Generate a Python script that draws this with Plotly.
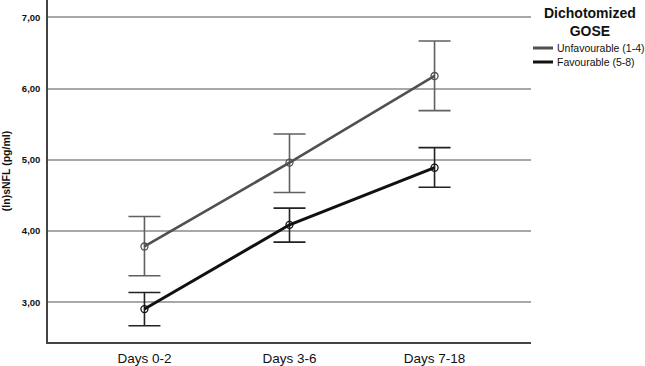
import plotly.graph_objects as go

categories = ["Days 0-2", "Days 3-6", "Days 7-18"]

unfav_mean = [3.785, 4.962, 6.177]
unfav_upper = [4.205, 5.364, 6.668]
unfav_lower = [3.374, 4.542, 5.691]

fav_mean = [2.907, 4.089, 4.890]
fav_upper = [3.140, 4.323, 5.172]
fav_lower = [2.673, 3.846, 4.617]

y_tickvals = [3, 4, 5, 6, 7]
y_ticktext = ["3,00", "4,00", "5,00", "6,00", "7,00"]

series_names = ["Unfavourable (1-4)", "Favourable (5-8)"]
legend_title = "Dichotomized<br>GOSE"

FONT = "Liberation Sans, Arial, sans-serif"
x_idx = list(range(len(categories)))

fig = go.Figure()

def add_series(mean, upper, lower, name, color, ecolor, lw):
    fig.add_trace(go.Scatter(
        x=x_idx, y=mean, name=name, mode="lines+markers",
        line=dict(color=color, width=lw),
        marker=dict(symbol="circle-open", size=7, color=color, line=dict(width=1.3, color=color)),
        error_y=dict(type="data", symmetric=False,
                     array=[u - m for u, m in zip(upper, mean)],
                     arrayminus=[m - l for m, l in zip(mean, lower)],
                     color=ecolor, thickness=1.6, width=16),
        showlegend=False,
    ))

add_series(unfav_mean, unfav_upper, unfav_lower, series_names[0], "#505050", "#606060", 2.6)
add_series(fav_mean, fav_upper, fav_lower, series_names[1], "#111111", "#222222", 3.0)

# manual legend
PW = 483.0
PH = 342.0
def px(xp):
    return (xp - 48) / PW
def py(yp):
    return 1 - yp / PH

fig.add_annotation(x=px(590), y=py(21.5), xref="paper", yref="paper", text="<b>" + legend_title.replace("<br>", "</b><br><b>") + "</b>",
                   showarrow=False, xanchor="center", yanchor="middle",
                   font=dict(family=FONT, size=14, color="#111111"), align="center")
legend_colors = ["#505050", "#111111"]
legend_y = [48, 62]
for name, col, yy in zip(series_names, legend_colors, legend_y):
    fig.add_shape(type="line", xref="paper", yref="paper", x0=px(533), x1=px(553), y0=py(yy), y1=py(yy),
                  line=dict(color=col, width=3))
    fig.add_annotation(x=px(555), y=py(yy), xref="paper", yref="paper", text=name, showarrow=False,
                       xanchor="left", yanchor="middle", font=dict(family=FONT, size=10.5, color="#111111"))

fig.update_layout(
    width=645, height=366,
    margin=dict(l=48, r=114, t=0, b=24),
    paper_bgcolor="white", plot_bgcolor="white",
    font=dict(family=FONT, color="#111111"),
)
fig.update_xaxes(
    range=[-0.665, 2.665], tickvals=x_idx, ticktext=categories,
    showline=True, linecolor="#444444", linewidth=1.5, showgrid=False, zeroline=False,
    ticks="", tickfont=dict(family=FONT, size=13.5, color="#111111"), ticklabelstandoff=3,
)
fig.update_yaxes(
    range=[2.445, 7.243], tickvals=y_tickvals, ticktext=y_ticktext,
    showline=True, linecolor="#444444", linewidth=1.5, showgrid=True, gridcolor="#a8a8a8", gridwidth=1.5,
    zeroline=False, ticks="", tickfont=dict(family=FONT, size=9.5, color="#111111", weight="bold"),
    ticklabelstandoff=4,
    title=dict(text="<b>(ln)sNFL (pg/ml)</b>", font=dict(family=FONT, size=10.5, color="#111111"), standoff=11),
)

fig.write_html("out.html", config={"displayModeBar": False},
               post_script="document.body.style.margin='0px';")
